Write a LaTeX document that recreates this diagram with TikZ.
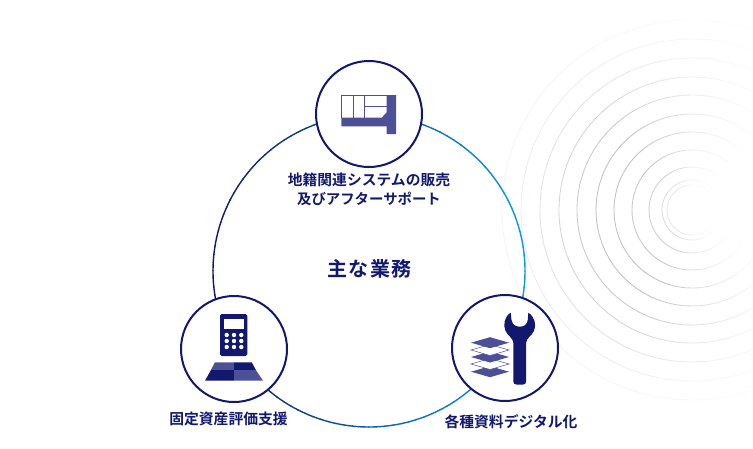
\documentclass[tikz,border=0pt]{standalone}
\usepackage{fontspec}
\usetikzlibrary{calc}
\setmainfont{Noto Sans CJK JP}[BoldFont={Noto Sans CJK JP Bold}]
\definecolor{navy}{HTML}{12186E}
\definecolor{midnavy}{HTML}{4D5096}
\definecolor{skyb}{HTML}{0B9BE8}
\tikzset{
  badge/.style={circle,draw=navy,line width=2pt,fill=white,minimum size=106pt,inner sep=0pt},
  lbl/.style={text=navy,font=\bfseries\fontsize{14.8}{19}\selectfont,align=center,inner sep=0pt},
  lite/.style={fill=midnavy,draw=none},
  dark/.style={fill=navy,draw=none},
  ring/.style={line width=0.9pt}
}
\begin{document}
\begin{tikzpicture}[x=1pt,y=-1pt]
\useasboundingbox (0,0) rectangle (753,448);
% rings
\foreach \r/\o in {25/.17,30/.24,43/.36,60/.43,78/.47,96/.47,115/.41,133/.32,152/.22,171/.14,190/.08}{
  \foreach \a in {0,6,...,354}{
    \pgfmathsetmacro{\x}{(1+cos(\a-170))/2+0.001}
    \pgfmathsetmacro{\w}{min(1,1.6*\x^1.7)*\o*100}
    \draw[ring,draw=black!50,opacity=\w/100] ($(692,210)+(\a:\r)$) arc[start angle=\a,end angle=\a+6,radius=\r];
  }
}
% main ring
\coordinate (hub) at (369,271);
\foreach \a in {0,3,...,357}{
  \pgfmathsetmacro{\m}{100*(1+cos(\a))/2}
  \draw[line width=1.4pt,draw=skyb!\m!navy] ($(hub)+(\a:156)$) arc[start angle=\a,end angle=\a+3.3,radius=156];
}
\node[badge] (top) at (369,114) {};
\node[badge] (left) at (234,349) {};
\node[badge] (right) at (505,348) {};
% cadastral icon
\fill[lite] (396,95) -- (386.7,95) -- (386.7,112.3) -- (381.7,117.7) -- (341.3,117.7) -- (341.3,126.3) -- (386.7,126.3) -- (386.7,134) -- (396,134) -- cycle;
\draw[midnavy,line width=.8pt] (386.7,95.3) -- (341.7,95.3) -- (341.7,118);
\draw[midnavy,line width=.8pt] (353.3,95.3) -- (353.3,118) (364,95.3) -- (364,118) (364,106.7) -- (386.7,106.7);
% calculator
\fill[dark,rounded corners=1.6pt] (220,314) rectangle (247.3,356);
\fill[white] (224,319.3) rectangle (244,329);
\foreach \x in {226.7,234,241.3}\foreach \y in {335,341,347}{\fill[white] (\x,\y) circle[radius=2.2];}
% parcel
\fill[lite] (215,362.3) -- (233.8,362.3) -- (233.8,369.8) -- (211,369.8) -- cycle;
\fill[dark] (234.2,362.3) -- (251.7,362.3) -- (255.8,369.8) -- (234.2,369.8) -- cycle;
\fill[dark] (210.9,370.2) -- (233.8,370.2) -- (233.8,380.7) -- (205,380.7) -- cycle;
\fill[lite] (234.2,370.2) -- (256,370.2) -- (263,380.7) -- (234.2,380.7) -- cycle;
% wrench
\fill[dark] (513.4,343) .. controls (513,338) and (508,336) .. (505.5,331) .. controls (503,325) and (504,317) .. (510.7,312.7) -- (511.5,320) .. controls (512.5,325) and (516,326.7) .. (519.7,326.7) .. controls (523.5,326.7) and (527,325) .. (527.8,320) -- (528.3,312.7) .. controls (535,317) and (536.5,325) .. (534,331) .. controls (531.5,336) and (526.5,338) .. (526,343) -- (526,381.5) .. controls (526,383.5) and (525,384.5) .. (523,384.5) -- (516.4,384.5) .. controls (514.4,384.5) and (513.4,383.5) .. (513.4,381.5) -- cycle;
% layers
\fill[lite] (471,371.7) -- (490,366.2) -- (509,371.7) -- (490,377.2) -- cycle;
\draw[midnavy,line width=.5pt,fill=white] (471,364) -- (490,358.5) -- (509,364) -- (490,369.5) -- cycle;
\fill[lite] (471,357) -- (490,351.5) -- (509,357) -- (490,362.5) -- cycle;
\draw[midnavy,line width=.5pt,fill=white] (471,350) -- (490,344.5) -- (509,350) -- (490,355.5) -- cycle;
\fill[lite] (471,342.7) -- (490,337.2) -- (509,342.7) -- (490,348.2) -- cycle;
% labels
\node[lbl] (t1) at (369,189.5) {地籍関連システムの販売\\{\fontsize{14.4}{19}\selectfont 及びアフターサポート}};
\node[lbl,font=\bfseries\fontsize{20}{24}\addfontfeature{LetterSpace=6}\selectfont] (t2) at (369.5,269) {主な業務};
\node[lbl] (t3) at (228.5,419) {固定資産評価支援};
\node[lbl] (t4) at (511,422) {各種資料デジタル化};
\end{tikzpicture}
\end{document}
